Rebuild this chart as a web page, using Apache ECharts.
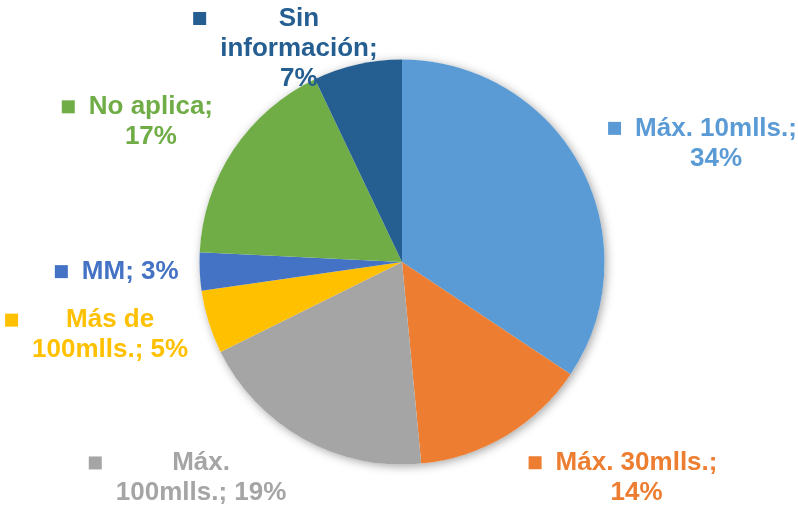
<!DOCTYPE html>
<html>
<head>
<meta charset="utf-8">
<script src="https://cdn.jsdelivr.net/npm/echarts@6/dist/echarts.min.js"></script>
<style>html,body{margin:0;padding:0;background:#fff}#c{width:798px;height:508px}</style>
</head>
<body>
<div id="c"></div>
<script>
const categories = ['Máx. 10mlls.', 'Máx. 30mlls.', 'Máx. 100mlls.', 'Más de 100mlls.', 'MM', 'No aplica', 'Sin información'];
const values = [34, 14, 19, 5, 3, 17, 7];
const colors = ['#5B9BD5', '#ED7D31', '#A5A5A5', '#FFC000', '#4472C4', '#70AD47', '#255E91'];
// how many words of "name; value%" go on each label line
const wrapWords = [[2, 1], [2, 1], [1, 2], [2, 2], [2], [2, 1], [1, 1, 1]];
// label offsets from the library's outside anchor
const labelShift = [[122, -23], [117, 42], [-116, 39], [-112, 13], [-83, 0], [-96, -28], [-72, -16]];

const FONT = '"Liberation Sans", Arial, sans-serif';
const rich = { g: { width: 14, align: 'left' }, s: { width: 27, align: 'left' } };
colors.forEach((c, i) => {
  rich['m' + i] = { width: 13, height: 13, backgroundColor: c, align: 'left' };
  rich['t' + i] = { color: c, fontSize: 26, fontWeight: 'bold', fontFamily: FONT, lineHeight: 30, align: 'center' };
});

function labelFormatter(p) {
  const i = p.dataIndex;
  const words = (p.name + '; ' + p.value + '%').split(' ');
  const lines = [];
  let k = 0;
  wrapWords[i].forEach(n => { lines.push(words.slice(k, k + n).join(' ')); k += n; });
  return lines.map((ln, j) => j === 0
    ? '{m' + i + '|}{g|}{t' + i + '|' + ln + '}'
    : '{s|}{t' + i + '|' + ln + '}').join('\n');
}

const chart = echarts.init(document.getElementById('c'), null, { renderer: 'canvas' });
chart.setOption({
  animation: false,
  backgroundColor: '#ffffff',
  series: [
    {
      type: 'pie',
      silent: true,
      center: [402, 262],
      radius: 202.5,
      label: { show: false },
      labelLine: { show: false },
      data: [{ value: 1, itemStyle: { color: '#ffffff', shadowBlur: 10, shadowColor: 'rgba(0,0,0,0.35)', shadowOffsetX: 2, shadowOffsetY: 2 } }]
    },
    {
      type: 'pie',
      center: [402, 262],
      radius: 202.5,
      startAngle: 90,
      clockwise: true,
      avoidLabelOverlap: false,
      itemStyle: { borderWidth: 0 },
      label: {
        show: true,
        position: 'outside',
        alignTo: 'none',
        distanceToLabelLine: 0,
        formatter: labelFormatter,
        rich: rich
      },
      labelLine: { show: false, length: 0, length2: 0 },
      labelLayout: function (params) {
        const d = labelShift[params.dataIndex];
        return { align: 'center', verticalAlign: 'middle', dx: d[0], dy: d[1] };
      },
      data: categories.map((n, i) => ({ name: n, value: values[i], itemStyle: { color: colors[i] } }))
    }
  ]
});
</script>
</body>
</html>
